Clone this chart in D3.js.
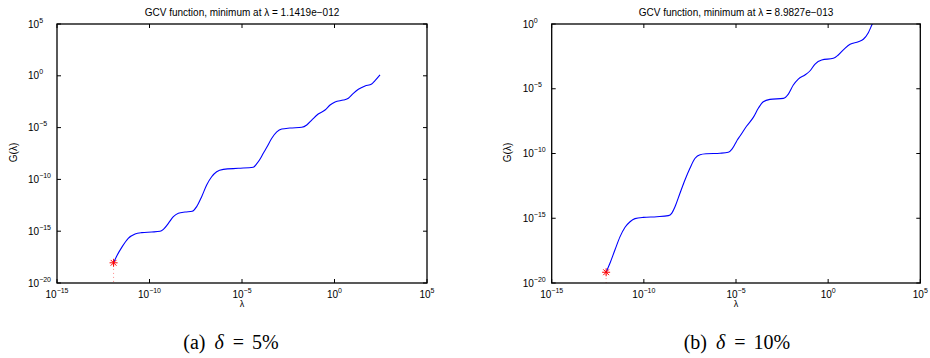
<!DOCTYPE html>
<html>
<head>
<meta charset="utf-8">
<script src="https://cdn.jsdelivr.net/npm/d3@7"></script>
<style>
  html, body { margin: 0; padding: 0; background: #fff; }
  svg { display: block; }
  .ax text { font-family: "Liberation Sans", Arial, Helvetica, sans-serif; fill: #000; }
  .cap { font-family: "Liberation Serif", "DejaVu Serif", serif; fill: #000; }
</style>
</head>
<body>
<svg id="fig" width="930" height="358"></svg>
<script>
// GCV curve (a), delta = 5%: log10(lambda) and log10(G(lambda))
const lambdaExpA = [-11.942, -11.77, -11.50, -11.15, -10.78, -10.42, -9.88, -9.43, -9.25, -8.98, -8.71, -8.44,
  -8.08, -7.69, -7.45, -7.18, -6.91, -6.64, -6.37, -6.01, -5.20, -4.39, -4.21, -4.03, -3.85, -3.66, -3.39,
  -3.12, -2.85, -2.41, -1.77, -1.50, -1.23, -0.88, -0.51, -0.24, 0.03, 0.48, 0.75, 1.02, 1.29, 1.65, 2.01, 2.19, 2.46];
const gcvExpA = [-18.05, -17.39, -16.56, -15.69, -15.27, -15.14, -15.08, -15.01, -14.82, -14.24, -13.60, -13.27,
  -13.15, -13.08, -12.63, -11.67, -10.54, -9.74, -9.26, -9.03, -8.93, -8.83, -8.51, -8.06, -7.48, -6.90, -6.03,
  -5.42, -5.14, -5.04, -4.97, -4.75, -4.27, -3.69, -3.30, -2.82, -2.53, -2.34, -2.17, -1.69, -1.30, -0.98, -0.79, -0.47, 0.08];

// GCV curve (b), delta = 10%
const lambdaExpB = [-12.0466, -11.84, -11.57, -11.29, -11.02, -10.75, -10.48, -10.03, -9.30, -8.67, -8.49, -8.31,
  -8.04, -7.77, -7.50, -7.22, -6.95, -6.59, -5.87, -5.42, -5.23, -5.05, -4.93, -4.78, -4.42, -4.06, -3.79, -3.52,
  -3.16, -2.43, -2.16, -1.89, -1.62, -1.26, -0.98, -0.71, -0.35, 0.28, 0.55, 0.91, 1.19, 1.64, 1.91, 2.18, 2.37, 2.46];
const gcvExpB = [-19.17, -18.48, -17.45, -16.42, -15.70, -15.27, -15.03, -14.93, -14.88, -14.80, -14.62, -14.11,
  -13.07, -12.05, -11.14, -10.37, -10.09, -10.02, -9.98, -9.91, -9.68, -9.27, -8.96, -8.65, -7.88, -7.21, -6.51, -6.00,
  -5.82, -5.74, -5.41, -4.71, -4.25, -3.94, -3.61, -3.09, -2.78, -2.65, -2.39, -1.88, -1.57, -1.37, -1.18, -0.67, -0.08, 0.20];

// GCV minima (lambda values quoted in the titles)
const minLambdaA = 1.1419e-12;
const minLambdaB = 8.9827e-13;

// Axis decades
const xTickExps = [-15, -10, -5, 0, 5];
const yTickExpsA = [-20, -15, -10, -5, 0, 5];
const yTickExpsB = [-20, -15, -10, -5, 0];

const titleA = "GCV function, minimum at \u03bb = 1.1419e\u2212012";
const titleB = "GCV function, minimum at \u03bb = 8.9827e\u2212013";
const captionA = ["(a)", "\u03b4", "=", "5%"];
const captionB = ["(b)", "\u03b4", "=", "10%"];

const svg = d3.select("#fig");

function supLabel(textSel, e) {
  textSel.append("tspan").text("10");
  textSel.append("tspan").attr("font-size", 7).attr("dy", -5)
    .text(e < 0 ? "\u2212" + (-e) : String(e));
}

function drawPanel(p) {
  const g = svg.append("g").attr("class", "ax");
  const x = d3.scaleLog().domain([1e-15, 1e5]).range([p.x0, p.x1]);
  const y = d3.scaleLog().domain([Math.pow(10, p.yExps[0]), Math.pow(10, p.yExps[p.yExps.length - 1])])
    .range([p.y1, p.y0]);

  const clipId = "clip-" + p.id;
  svg.append("clipPath").attr("id", clipId).append("rect")
    .attr("x", p.x0).attr("y", p.y0).attr("width", p.x1 - p.x0).attr("height", p.y1 - p.y0);

  const pts = p.lx.map((lx, i) => [Math.pow(10, lx), Math.pow(10, p.gy[i])]);
  const line = d3.line().x(d => x(d[0])).y(d => y(d[1])).curve(d3.curveMonotoneX);

  const plot = g.append("g").attr("clip-path", `url(#${clipId})`);
  plot.append("path").datum(pts).attr("d", line)
    .attr("fill", "none").attr("stroke", "#0000ff").attr("stroke-width", 1.1);

  // minimum marker with dotted drop line
  const gMin = pts[0][1];
  plot.append("path")
    .datum([[p.minLambda, gMin / 1000], [p.minLambda, gMin]])
    .attr("d", d3.line().x(d => x(d[0])).y(d => y(d[1])))
    .attr("fill", "none").attr("stroke", "#ff0000").attr("stroke-width", 0.8)
    .attr("stroke-dasharray", "1,3").attr("opacity", 0.6);

  const cx = x(p.minLambda), cy = y(gMin), r = 4, rd = r * 0.72;
  g.append("path")
    .attr("d", `M${cx - r},${cy}H${cx + r}M${cx},${cy - r}V${cy + r}` +
      `M${cx - rd},${cy - rd}L${cx + rd},${cy + rd}M${cx - rd},${cy + rd}L${cx + rd},${cy - rd}`)
    .attr("stroke", "#ff0000").attr("stroke-width", 1).attr("fill", "none");

  // box
  g.append("rect").attr("x", p.x0).attr("y", p.y0)
    .attr("width", p.x1 - p.x0).attr("height", p.y1 - p.y0)
    .attr("fill", "none").attr("stroke", "#000").attr("stroke-width", 1.3);

  const tl = 4;
  // x ticks on bottom and top, pointing inwards
  xTickExps.forEach(e => {
    const xv = x(Math.pow(10, e));
    g.append("line").attr("x1", xv).attr("x2", xv).attr("y1", p.y1).attr("y2", p.y1 - tl).attr("stroke", "#000");
    g.append("line").attr("x1", xv).attr("x2", xv).attr("y1", p.y0).attr("y2", p.y0 + tl).attr("stroke", "#000");
    const t = g.append("text").attr("x", xv).attr("y", p.y1 + 14.5)
      .attr("text-anchor", "middle").attr("font-size", 10);
    supLabel(t, e);
  });
  // y ticks on left and right
  p.yExps.forEach(e => {
    const yv = y(Math.pow(10, e));
    g.append("line").attr("x1", p.x0).attr("x2", p.x0 + tl).attr("y1", yv).attr("y2", yv).attr("stroke", "#000");
    g.append("line").attr("x1", p.x1).attr("x2", p.x1 - tl).attr("y1", yv).attr("y2", yv).attr("stroke", "#000");
    const t = g.append("text").attr("x", p.x0 - 29).attr("y", yv + 3.5)
      .attr("text-anchor", "start").attr("font-size", 10);
    supLabel(t, e);
  });

  // title and axis labels
  g.append("text").attr("x", (p.x0 + p.x1) / 2).attr("y", 16)
    .attr("text-anchor", "middle").attr("font-size", 10).text(p.title);
  g.append("text").attr("x", (p.x0 + p.x1) / 2).attr("y", p.y1 + 23.5)
    .attr("text-anchor", "middle").attr("font-size", 9).text("\u03bb");
  g.append("text").attr("transform", `translate(${p.x0 - 40.5},${(p.y0 + p.y1) / 2 - 1}) rotate(-90)`)
    .attr("text-anchor", "middle").attr("font-size", 10).text("G(\u03bb)");

  // subfigure caption
  const c = svg.append("text").attr("class", "cap").attr("x", p.capX).attr("y", 349)
    .attr("text-anchor", "middle").attr("font-size", 20);
  c.append("tspan").text(p.caption[0]);
  c.append("tspan").attr("dx", 9).attr("font-style", "italic").text(p.caption[1]);
  c.append("tspan").attr("dx", 9).text(p.caption[2]);
  c.append("tspan").attr("dx", 8).text(p.caption[3]);
}

drawPanel({ id: "a", x0: 57, x1: 427, y0: 24, y1: 283, yExps: yTickExpsA,
  lx: lambdaExpA, gy: gcvExpA, minLambda: minLambdaA, title: titleA, caption: captionA, capX: 231 });
drawPanel({ id: "b", x0: 551.7, x1: 920.3, y0: 24, y1: 283, yExps: yTickExpsB,
  lx: lambdaExpB, gy: gcvExpB, minLambda: minLambdaB, title: titleB, caption: captionB, capX: 737 });
</script>
</body>
</html>
